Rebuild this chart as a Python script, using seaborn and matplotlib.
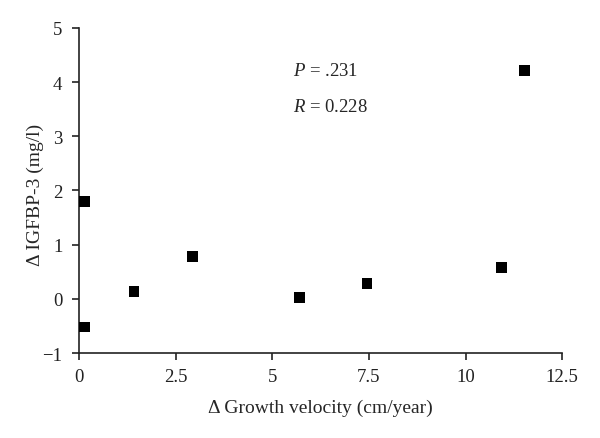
import matplotlib
matplotlib.use("Agg")
import matplotlib.pyplot as plt
import seaborn as sns
import pandas as pd

growth_velocity = [0.15, 0.15, 1.42, 2.94, 5.7, 7.45, 10.92, 11.52]
igfbp3 = [1.8, -0.52, 0.14, 0.78, 0.02, 0.28, 0.58, 4.22]
x_ticks = [0, 2.5, 5, 7.5, 10, 12.5]
x_tick_labels = ["0", "2.5", "5", "7.5", "10", "12.5"]
y_ticks = [-1, 0, 1, 2, 3, 4, 5]
y_tick_labels = ["\u22121", "0", "1", "2", "3", "4", "5"]

df = pd.DataFrame({"x": growth_velocity, "y": igfbp3})

sns.set_theme(style="ticks")
plt.rcParams["font.family"] = ["Liberation Serif", "DejaVu Serif"]
plt.rcParams["mathtext.fontset"] = "custom"
plt.rcParams["mathtext.it"] = "Liberation Serif:italic"
plt.rcParams["mathtext.rm"] = "Liberation Serif"

fig = plt.figure(figsize=(6.0, 4.39), dpi=100)
ax = fig.add_axes([0.1317, 0.1936, 0.8053, 0.7404])

sns.scatterplot(data=df, x="x", y="y", marker="s", s=60, color="black",
                edgecolor="none", ax=ax, clip_on=False, zorder=3)

ax.set_xlim(0, 12.5)
ax.set_ylim(-1, 5)
ax.set_xticks(x_ticks)
ax.set_xticklabels(x_tick_labels)
ax.set_yticks(y_ticks)
ax.set_yticklabels(y_tick_labels)
for s in ["top", "right"]:
    ax.spines[s].set_visible(False)
for s in ["left", "bottom"]:
    ax.spines[s].set_linewidth(1.2)
    ax.spines[s].set_color("#222222")
ax.tick_params(axis="both", direction="out", length=5, width=1.2,
               labelsize=13.5, colors="#222222")
ax.tick_params(axis="y", pad=7)
ax.tick_params(axis="x", pad=6)

ax.set_xlabel("\u0394 Growth velocity (cm/year)", fontsize=14, labelpad=10)
ax.set_ylabel("\u0394 IGFBP-3 (mg/l)", fontsize=14)
ax.yaxis.set_label_coords(-0.072, 0.49)

ax.text(0.442, 0.868, r"$P$ = .231", transform=ax.transAxes, fontsize=13.5, va="center")
ax.text(0.442, 0.757, r"$R$ = 0.228", transform=ax.transAxes, fontsize=13.5, va="center")

fig.savefig("out.png", dpi=100)
